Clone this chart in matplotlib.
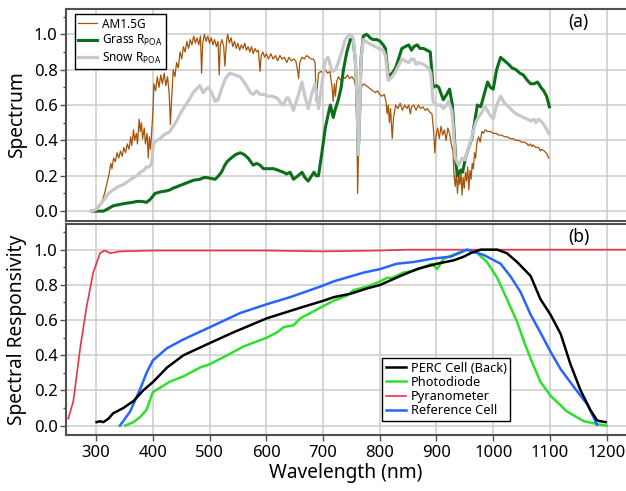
import numpy as np
import matplotlib
matplotlib.use("Agg")
import matplotlib.pyplot as plt
from matplotlib.ticker import MultipleLocator

plt.rcParams["font.family"] = ["Noto Sans", "DejaVu Sans"]

# ---- (a) spectra ----
am15_wl = [292, 298, 305, 310, 315, 320, 323, 326, 328, 331, 334, 337, 340, 343, 346, 349, 352, 355, 358,
           361, 363, 366, 368, 371, 373, 376, 378, 380, 382, 385, 387, 390, 392, 394, 396, 398, 400, 402,
           405, 408, 411, 414, 417, 420, 423, 426, 429, 431, 433, 436, 439, 442, 445, 448, 451, 454, 457,
           460, 463, 466, 469, 472, 475, 478, 481, 484, 486, 488, 491, 494, 497, 500, 503, 506, 509, 512,
           515, 517, 519, 522, 525, 527, 530, 532, 535, 538, 541, 544, 547, 550, 553, 556, 559, 562, 565,
           568, 571, 574, 577, 580, 583, 586, 589, 591, 594, 597, 600, 604, 608, 612, 616, 620, 624, 628,
           632, 636, 640, 644, 648, 652, 655, 657, 659, 663, 667, 671, 675, 679, 683, 686, 688, 690, 692,
           696, 700, 704, 708, 712, 716, 718, 720, 722, 724, 727, 731, 735, 739, 743, 747, 751, 755, 758,
           760, 761, 762, 764, 766, 769, 772, 776, 780, 784, 788, 792, 796, 800, 804, 808, 811, 813, 815,
           817, 819, 821, 822, 824, 826, 828, 832, 836, 840, 844, 848, 851, 854, 856, 860, 864, 868, 872,
           876, 880, 884, 888, 892, 895, 897, 899, 902, 905, 908, 911, 914, 917, 920, 923, 926, 929, 931,
           933, 935, 937, 939, 941, 943, 945, 947, 949, 951, 953, 955, 957, 959, 961, 963, 965, 967, 969,
           971, 974, 977, 980, 983, 986, 990, 995, 1000, 1005, 1010, 1015, 1020, 1025, 1030, 1035, 1040,
           1045, 1050, 1055, 1060, 1062, 1065, 1068, 1070, 1075, 1080, 1083, 1085, 1090, 1093, 1095, 1098]
am15_val = [0.0, 0.005, 0.02, 0.05, 0.10, 0.17, 0.21, 0.27, 0.24, 0.30, 0.28, 0.33, 0.30, 0.34, 0.31, 0.36,
            0.33, 0.38, 0.35, 0.42, 0.37, 0.46, 0.40, 0.44, 0.38, 0.52, 0.45, 0.50, 0.41, 0.47, 0.38, 0.44,
            0.30, 0.42, 0.35, 0.45, 0.55, 0.72, 0.68, 0.76, 0.70, 0.77, 0.72, 0.78, 0.71, 0.76, 0.66, 0.49,
            0.62, 0.80, 0.76, 0.84, 0.81, 0.90, 0.86, 0.93, 0.90, 0.96, 0.92, 0.97, 0.94, 0.99, 0.95, 0.98,
            0.94, 0.99, 0.78, 0.95, 1.00, 0.96, 0.99, 0.95, 0.98, 0.94, 0.97, 0.93, 0.96, 0.77, 0.94, 0.97,
            0.93, 0.82, 0.96, 1.00, 0.95, 0.98, 0.93, 0.96, 0.92, 0.95, 0.91, 0.94, 0.92, 0.95, 0.91, 0.93,
            0.90, 0.93, 0.89, 0.92, 0.90, 0.91, 0.79, 0.88, 0.90, 0.87, 0.89, 0.86, 0.89, 0.86, 0.88, 0.85,
            0.88, 0.86, 0.87, 0.84, 0.87, 0.85, 0.86, 0.85, 0.80, 0.75, 0.84, 0.87, 0.86, 0.88, 0.87, 0.86,
            0.86, 0.84, 0.62, 0.70, 0.78, 0.79, 0.78, 0.80, 0.78, 0.79, 0.70, 0.62, 0.72, 0.65, 0.73, 0.76,
            0.74, 0.76, 0.75, 0.77, 0.75, 0.76, 0.74, 0.70, 0.40, 0.10, 0.25, 0.55, 0.68, 0.71, 0.72, 0.71,
            0.70, 0.69, 0.68, 0.67, 0.68, 0.66, 0.65, 0.66, 0.62, 0.55, 0.60, 0.50, 0.58, 0.47, 0.41, 0.52,
            0.56, 0.60, 0.58, 0.61, 0.57, 0.60, 0.58, 0.60, 0.55, 0.59, 0.60, 0.57, 0.60, 0.58, 0.59, 0.57,
            0.58, 0.56, 0.55, 0.45, 0.33, 0.42, 0.47, 0.41, 0.48, 0.43, 0.46, 0.40, 0.47, 0.44, 0.38, 0.34,
            0.20, 0.14, 0.22, 0.10, 0.20, 0.15, 0.24, 0.09, 0.19, 0.13, 0.22, 0.17, 0.25, 0.12, 0.23, 0.18,
            0.27, 0.24, 0.33, 0.30, 0.38, 0.42, 0.39, 0.45, 0.44, 0.46, 0.45, 0.45, 0.44, 0.44, 0.43, 0.43,
            0.42, 0.42, 0.41, 0.41, 0.40, 0.40, 0.39, 0.39, 0.38, 0.37, 0.38, 0.365, 0.375, 0.36, 0.36, 0.34,
            0.35, 0.34, 0.33, 0.32, 0.30]

grass_wl = [292, 313, 322, 330, 345, 354, 365, 372, 380, 389, 395, 399, 404, 415, 425, 430, 436, 448, 460,
            472, 483, 490, 495, 503, 510, 516, 521, 527, 531, 538, 546, 554, 561, 568, 577, 583, 589, 595,
            605, 613, 622, 630, 636, 642, 648, 656, 663, 668, 674, 680, 684, 688, 692, 698, 704, 710, 713,
            718, 722, 727, 732, 736, 742, 748, 753, 757, 760, 762, 765, 767, 771, 777, 783, 788, 795, 801,
            806, 810, 815, 822, 828, 834, 839, 845, 851, 856, 860, 866, 871, 877, 883, 889, 894, 900, 904,
            912, 918, 923, 928, 931, 934, 937, 942, 946, 951, 957, 963, 968, 972, 978, 984, 990, 995, 1000,
            1006, 1013, 1020, 1027, 1033, 1040, 1047, 1053, 1060, 1066, 1072, 1078, 1084, 1089, 1094, 1099]
grass_val = [0.0, 0.0, 0.015, 0.03, 0.04, 0.045, 0.05, 0.055, 0.055, 0.05, 0.065, 0.08, 0.10, 0.11, 0.115,
             0.12, 0.13, 0.145, 0.16, 0.175, 0.18, 0.19, 0.19, 0.185, 0.18, 0.20, 0.22, 0.26, 0.28, 0.30,
             0.32, 0.33, 0.32, 0.30, 0.26, 0.27, 0.26, 0.24, 0.24, 0.24, 0.23, 0.22, 0.21, 0.22, 0.18, 0.20,
             0.22, 0.19, 0.17, 0.20, 0.22, 0.20, 0.20, 0.33, 0.47, 0.56, 0.60, 0.53, 0.58, 0.63, 0.70, 0.80,
             0.90, 0.97, 0.97, 0.85, 0.64, 0.32, 0.60, 0.86, 0.99, 1.00, 0.98, 0.97, 0.97, 0.96, 0.94, 0.92,
             0.76, 0.78, 0.81, 0.87, 0.92, 0.93, 0.94, 0.91, 0.93, 0.94, 0.92, 0.92, 0.91, 0.90, 0.70, 0.71,
             0.70, 0.63, 0.66, 0.69, 0.60, 0.45, 0.28, 0.20, 0.23, 0.22, 0.30, 0.36, 0.42, 0.52, 0.60, 0.59,
             0.66, 0.73, 0.70, 0.69, 0.80, 0.87, 0.85, 0.83, 0.81, 0.80, 0.78, 0.77, 0.74, 0.72, 0.72, 0.73,
             0.70, 0.68, 0.65, 0.59]

snow_wl = [292, 300, 313, 322, 330, 340, 348, 357, 366, 372, 378, 384, 389, 394, 398, 401, 407, 413, 419,
           425, 430, 436, 442, 450, 460, 466, 471, 477, 483, 489, 494, 498, 505, 510, 515, 521, 528, 536,
           545, 554, 563, 572, 577, 583, 589, 596, 603, 610, 619, 626, 630, 636, 639, 648, 656, 663, 668,
           674, 680, 686, 692, 698, 704, 709, 716, 722, 727, 733, 739, 748, 753, 757, 760, 762, 765, 767,
           771, 780, 792, 806, 810, 815, 822, 828, 839, 845, 851, 856, 860, 864, 868, 877, 886, 890, 894,
           900, 907, 912, 918, 921, 927, 930, 933, 939, 945, 950, 956, 962, 969, 974, 980, 986, 993, 1000,
           1006, 1013, 1020, 1027, 1033, 1040, 1047, 1053, 1060, 1067, 1072, 1075, 1080, 1087, 1093, 1098]
snow_val = [0.0, 0.01, 0.06, 0.10, 0.12, 0.14, 0.15, 0.17, 0.19, 0.20, 0.22, 0.23, 0.25, 0.25, 0.27, 0.38,
            0.40, 0.41, 0.43, 0.44, 0.45, 0.48, 0.51, 0.56, 0.61, 0.64, 0.67, 0.69, 0.71, 0.67, 0.69, 0.70,
            0.66, 0.62, 0.63, 0.69, 0.75, 0.78, 0.77, 0.76, 0.72, 0.67, 0.66, 0.68, 0.66, 0.66, 0.65, 0.65,
            0.64, 0.61, 0.60, 0.64, 0.64, 0.57, 0.65, 0.73, 0.65, 0.58, 0.66, 0.72, 0.58, 0.72, 0.85, 0.87,
            0.79, 0.80, 0.84, 0.90, 0.97, 1.00, 0.98, 0.85, 0.64, 0.32, 0.60, 0.86, 0.97, 0.95, 0.93, 0.91,
            0.88, 0.74, 0.76, 0.79, 0.86, 0.85, 0.84, 0.86, 0.86, 0.83, 0.84, 0.83, 0.81, 0.78, 0.62, 0.60,
            0.60, 0.58, 0.60, 0.62, 0.57, 0.45, 0.30, 0.26, 0.30, 0.29, 0.35, 0.42, 0.50, 0.53, 0.56, 0.59,
            0.55, 0.52, 0.60, 0.65, 0.61, 0.59, 0.57, 0.55, 0.54, 0.53, 0.52, 0.51, 0.52, 0.50, 0.52, 0.50,
            0.47, 0.44]

# ---- (b) spectral responsivity ----
perc_wl = [301, 307, 313, 322, 330, 348, 366, 383, 401, 425, 454, 501, 542, 601, 660, 701, 719, 749, 778,
           801, 836, 866, 901, 931, 948, 960, 978, 1007, 1024, 1042, 1066, 1083, 1101, 1119, 1136, 1154,
           1171, 1183, 1189, 1198]
perc_val = [0.02, 0.025, 0.02, 0.04, 0.07, 0.10, 0.14, 0.20, 0.25, 0.33, 0.40, 0.47, 0.53, 0.61, 0.67, 0.71,
            0.73, 0.75, 0.78, 0.80, 0.85, 0.89, 0.92, 0.94, 0.96, 0.98, 1.00, 1.00, 0.98, 0.93, 0.85, 0.72,
            0.63, 0.52, 0.35, 0.20, 0.09, 0.03, 0.025, 0.02]

photo_wl = [351, 366, 378, 389, 395, 400, 410, 430, 454, 483, 501, 531, 560, 601, 619, 631, 648, 660, 678,
            695, 719, 743, 754, 778, 801, 813, 822, 842, 860, 884, 892, 901, 913, 937, 954, 972, 989, 1007,
            1024, 1042, 1054, 1066, 1083, 1101, 1130, 1160, 1189, 1200]
photo_val = [0.0, 0.02, 0.05, 0.09, 0.145, 0.19, 0.21, 0.25, 0.28, 0.33, 0.35, 0.40, 0.45, 0.50, 0.53, 0.56,
             0.57, 0.61, 0.64, 0.67, 0.71, 0.74, 0.77, 0.79, 0.82, 0.84, 0.84, 0.87, 0.88, 0.91, 0.92, 0.89,
             0.95, 0.98, 1.00, 0.98, 0.93, 0.84, 0.72, 0.59, 0.48, 0.38, 0.25, 0.17, 0.08, 0.025, 0.005, 0.0]

pyr_wl = [251, 260, 272, 283, 295, 307, 315, 325, 342, 400, 500, 600, 700, 800, 850, 900, 1000, 1100, 1234]
pyr_val = [0.04, 0.14, 0.44, 0.67, 0.87, 0.98, 0.995, 0.98, 0.99, 0.995, 0.995, 0.995, 0.99, 0.995, 1.0,
           1.0, 1.0, 1.0, 1.0]

ref_wl = [342, 360, 378, 389, 400, 425, 454, 501, 554, 601, 642, 695, 719, 772, 801, 830, 860, 895, 925,
          954, 983, 1013, 1030, 1048, 1066, 1083, 1101, 1119, 1142, 1166, 1183]
ref_val = [0.0, 0.08, 0.21, 0.30, 0.37, 0.44, 0.49, 0.56, 0.64, 0.69, 0.73, 0.79, 0.82, 0.87, 0.89, 0.92,
           0.93, 0.95, 0.96, 1.00, 0.97, 0.92, 0.85, 0.76, 0.63, 0.53, 0.42, 0.32, 0.22, 0.12, 0.005]

SPINE = "#505050"


def style_axes(ax):
    ax.set_xlim(247, 1234)
    ax.set_ylim(-0.053, 1.143)
    ax.xaxis.set_major_locator(MultipleLocator(100))
    ax.yaxis.set_major_locator(MultipleLocator(0.2))
    ax.yaxis.set_minor_locator(MultipleLocator(0.1))
    ax.yaxis.set_major_formatter(matplotlib.ticker.FormatStrFormatter("%.1f"))
    ax.grid(True, color="#cccccc", linewidth=1.1)
    ax.set_axisbelow(True)
    ax.spines["right"].set_visible(False)
    for s in ("left", "top", "bottom"):
        ax.spines[s].set_color(SPINE)
        ax.spines[s].set_linewidth(1.5)
    ax.tick_params(axis="y", which="major", direction="out", length=4, width=1, color=SPINE,
                   labelsize=12, pad=2)
    ax.tick_params(axis="y", which="minor", direction="out", length=2.5, width=1, color=SPINE)
    ax.tick_params(axis="x", which="major", direction="out", length=4, width=1, color=SPINE,
                   labelsize=12, pad=3)


fig = plt.figure(figsize=(6.26, 4.91), dpi=100)
ax1 = fig.add_axes([0.1054, 0.5509, 0.8946, 0.4308])
ax2 = fig.add_axes([0.1054, 0.1141, 0.8946, 0.4287])

style_axes(ax1)
ax1.tick_params(axis="x", length=0, labelbottom=False)
ax1.plot(am15_wl, am15_val, color="#a6540a", lw=0.9, label="AM1.5G", zorder=2)
ax1.plot(grass_wl, grass_val, color="#0b6e18", lw=2.2, label=r"Grass R$_{\mathregular{POA}}$", zorder=3)
ax1.plot(snow_wl, snow_val, color="#c8c8c8", lw=2.3, label=r"Snow R$_{\mathregular{POA}}$", zorder=4)
ax1.set_ylabel("Spectrum", fontsize=13.8, labelpad=5)
ax1.text(0.915, 0.94, "(a)", transform=ax1.transAxes, fontsize=12.5, ha="center", va="center")
leg1 = ax1.legend(loc="upper left", bbox_to_anchor=(0.016, 0.976), borderaxespad=0, fontsize=8.5,
                  frameon=True, fancybox=False, framealpha=1, edgecolor="black", handlelength=1.6,
                  handletextpad=0.35, labelspacing=0.2, borderpad=0.3)
leg1.get_frame().set_linewidth(1.0)

style_axes(ax2)
ax2.plot(pyr_wl, pyr_val, color="#eb3246", lw=1.2, label="Pyranometer", zorder=2)
ax2.plot(photo_wl, photo_val, color="#2ee02e", lw=1.8, label="Photodiode", zorder=3)
ax2.plot(ref_wl, ref_val, color="#2864ff", lw=1.8, label="Reference Cell", zorder=4)
ax2.plot(perc_wl, perc_val, color="black", lw=1.8, label="PERC Cell (Back)", zorder=5)
ax2.set_ylabel("Spectral Responsivity", fontsize=13.8, labelpad=5)
ax2.set_xlabel("Wavelength (nm)", fontsize=13.8, labelpad=2)
ax2.text(0.915, 0.94, "(b)", transform=ax2.transAxes, fontsize=12.5, ha="center", va="center")
h, l = ax2.get_legend_handles_labels()
order = [3, 1, 0, 2]
leg2 = ax2.legend([h[i] for i in order], [l[i] for i in order], loc="upper left",
                  bbox_to_anchor=(0.564, 0.367), borderaxespad=0, fontsize=9.2, frameon=True,
                  fancybox=False, framealpha=1, edgecolor="black", handlelength=1.6,
                  handletextpad=0.35, labelspacing=0.1, borderpad=0.3)
leg2.get_frame().set_linewidth(1.0)

fig.savefig("out.png", dpi=100)
